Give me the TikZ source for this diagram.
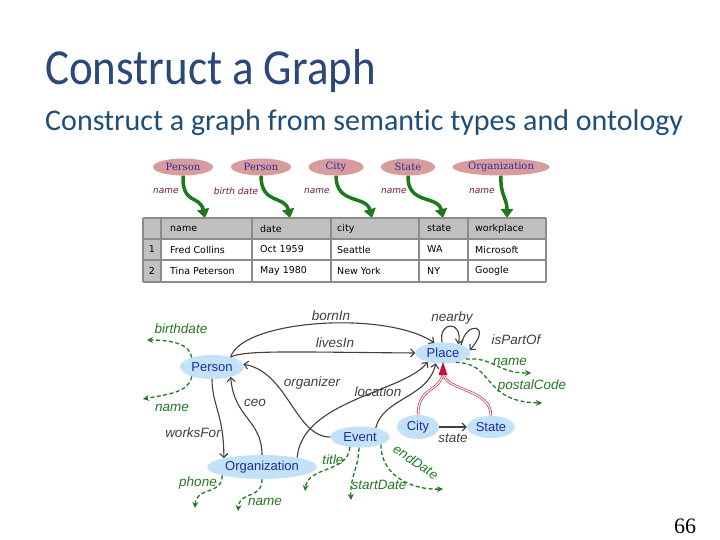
\documentclass[tikz,border=0pt]{standalone}
\usepackage{fontspec}
\setmainfont{Carlito}[Ligatures=NoCommon]
\newfontfamily\arialfont{Liberation Sans}
\newfontfamily\tablefont{DejaVu Sans}
\newfontfamily\typefont{DejaVu Serif}
\newfontfamily\numfont{Liberation Serif}
\usetikzlibrary{shapes.geometric,arrows.meta}
\definecolor{titleblue}{HTML}{2B4878}
\definecolor{subblue}{HTML}{1F4E79}
\definecolor{typepink}{HTML}{D99C9C}
\definecolor{typetext}{HTML}{2A2AA8}
\definecolor{labelred}{HTML}{7A1840}
\definecolor{bigreen}{HTML}{1C7A1C}
\definecolor{tgray}{HTML}{C0C0C0}
\definecolor{tline}{HTML}{8C8C8C}
\definecolor{clsblue}{HTML}{C3E2F8}
\definecolor{clstext}{HTML}{1A2E9E}
\definecolor{reldark}{HTML}{404040}
\definecolor{attrgreen}{HTML}{237A23}
\definecolor{subred}{HTML}{C0143C}
\tikzset{
  stype/.style={ellipse, fill=typepink, inner sep=0pt, minimum height=17pt,
    font=\typefont\fontsize{10}{11}\selectfont, text=typetext},
  slabel/.style={font=\tablefont\itshape\fontsize{9}{10}\selectfont, text=labelred},
  sarrow/.style={draw=bigreen, line width=3.5pt, -{Triangle[length=9pt,width=12pt]}},
  cell/.style={anchor=west, inner sep=0pt, font=\tablefont\fontsize{9.5}{10}\selectfont},
  cls/.style={ellipse, fill=clsblue, inner sep=0pt,
    font=\arialfont\fontsize{13}{14}\selectfont, text=clstext},
  rel/.style={draw=reldark, line width=1.1pt, -{Straight Barb[length=4pt,width=8pt]}},
  rellabel/.style={font=\arialfont\itshape\fontsize{13.5}{14}\selectfont, text=reldark, inner sep=0pt},
  attr/.style={draw=attrgreen, line width=1.3pt, dash pattern=on 4pt off 2.5pt,
    -{Stealth[length=6pt,width=6pt]}},
  attrlabel/.style={font=\arialfont\itshape\fontsize{13.5}{14}\selectfont, text=attrgreen, inner sep=0pt},
  subcls/.style={draw=subred, double=white, double distance=1.2pt, line width=0.6pt}
}
\begin{document}
\begin{tikzpicture}[x=1pt,y=-1pt]
  \fill[white] (0,0) rectangle (720,540);
  \useasboundingbox (0,0) rectangle (720,540);
  % Titles
  \node[anchor=base west, inner sep=0pt, text=titleblue, font=\fontsize{45}{50}\selectfont] (title) at (45,85) {\scalebox{1}[1.12]{Construct a Graph}};
  \node[anchor=base west, inner sep=0pt, text=subblue, font=\fontsize{30}{34}\selectfont] (subtitle) at (45,131) {Construct a graph from semantic types and ontology};
  \node[anchor=base, inner sep=0pt, font=\numfont\fontsize{22}{24}\selectfont] (page) at (685,533) {66};

  % Semantic types
  \node[stype, minimum width=60pt] (t1) at (183,167) {Person};
  \node[stype, minimum width=60pt] (t2) at (261,167) {Person};
  \node[stype, minimum width=55pt] (t3) at (336,167) {City};
  \node[stype, minimum width=54pt] (t4) at (408,167) {State};
  \node[stype, minimum width=97pt] (t5) at (501,167) {Organization};
  \node[slabel] (l1) at (166,191) {name};
  \node[slabel] (l2) at (236,191) {birth date};
  \node[slabel] (l3) at (317,191) {name};
  \node[slabel] (l4) at (394,191) {name};
  \node[slabel] (l5) at (482,191) {name};
  \coordinate (a1) at (205,218);
  \coordinate (a2) at (290,218);
  \coordinate (a3) at (372,218);
  \coordinate (a4) at (443,218);
  \coordinate (a5) at (507,218);
  \draw[sarrow] (t1.south) .. controls (182,205) and (200,195) .. (a1);
  \draw[sarrow] (t2.south) .. controls (261,205) and (285,195) .. (a2);
  \draw[sarrow] (t3.south) .. controls (336,205) and (366,195) .. (a3);
  \draw[sarrow] (t4.south) .. controls (407,205) and (438,195) .. (a4);
  \draw[sarrow] (t5.south) .. controls (500,195) and (507,198) .. (a5);

  % Table
  \fill[tgray] (143,218) rectangle (546,239);
  \fill[tgray] (143,239) rectangle (161,282);
  \foreach \y in {218,239,260,282}
    \draw[tline, line width=1.5pt] (143,\y) -- (546,\y);
  \foreach \x in {143,161,252,331,419,468,546}
    \draw[tline, line width=1.5pt] (\x,218) -- (\x,282);
  \node[cell] (hname) at (170,228.5) {name};
  \node[cell] (hdate) at (260,228.5) {date};
  \node[cell] (hcity) at (337,228.5) {city};
  \node[cell] (hstate) at (427,228.5) {state};
  \node[cell] (hwork) at (475,228.5) {workplace};
  \node[cell, anchor=center] (i1) at (152,249.5) {1};
  \node[cell] (r1a) at (170,249.5) {Fred Collins};
  \node[cell] (r1b) at (260,249.5) {Oct 1959};
  \node[cell] (r1c) at (337,249.5) {Seattle};
  \node[cell] (r1d) at (427,249.5) {WA};
  \node[cell] (r1e) at (475,249.5) {Microsoft};
  \node[cell, anchor=center] (i2) at (152,271) {2};
  \node[cell] (r2a) at (170,271) {Tina Peterson};
  \node[cell] (r2b) at (260,271) {May 1980};
  \node[cell] (r2c) at (337,271) {New York};
  \node[cell] (r2d) at (427,271) {NY};
  \node[cell] (r2e) at (475,271) {Google};

  % Ontology nodes
  \node[cls, minimum width=64pt, minimum height=24pt] (Person) at (212,367) {Person};
  \node[cls, minimum width=55pt, minimum height=21pt] (Place) at (443,353) {Place};
  \node[cls, minimum width=110pt, minimum height=24pt] (Organization) at (262,467) {Organization};
  \node[cls, minimum width=59pt, minimum height=21pt] (Event) at (360,437) {Event};
  \node[cls, minimum width=42pt, minimum height=24pt] (City) at (418,427) {City};
  \node[cls, minimum width=48pt, minimum height=22pt] (State) at (491,427) {State};

  % Object properties
  \draw[rel] (Person.28) .. controls (242,320) and (385,310) .. (Place.130);
  \draw[rel] (Person.28) .. controls (245,350) and (290,352) .. (Place.180);
  \draw[rel] (Event.180) .. controls (295,437) and (288,372) .. (Person.5);
  \draw[rel] (Organization.15) .. controls (302,400) and (405,392) .. (Place.210);
  \draw[rel] (Event.30) .. controls (383,398) and (428,398) .. (Place.235);
  \draw[rel] (Organization.north) .. controls (262,420) and (234,418) .. (Person.-28);
  \draw[rel] (Person.south) .. controls (212,405) and (224,415) .. (Organization.167);
  \draw[rel] (Place.95) .. controls (438,321) and (463,320) .. (Place.30);
  \draw[rel] (Place.24) .. controls (466,320) and (493,324) .. (Place.6);
  \draw[rel] (City.east) -- (State.west);
  \node[rellabel] (bornIn) at (331,316) {bornIn};
  \node[rellabel] (livesIn) at (335,343) {livesIn};
  \node[rellabel] (organizer) at (312,383) {organizer};
  \node[rellabel] (location) at (378,392) {location};
  \node[rellabel] (ceo) at (255,403) {ceo};
  \node[rellabel] (worksFor) at (193,433) {worksFor};
  \node[rellabel] (nearby) at (452,318) {nearby};
  \node[rellabel] (isPartOf) at (516,340) {isPartOf};
  \node[rellabel] (statelbl) at (453,438) {state};

  % Subclass links
  \coordinate (apex) at (443,373);
  \draw[subcls] (City.north) .. controls (418,386) and (441,392) .. (apex);
  \draw[subcls] (State.north) .. controls (491,388) and (446,392) .. (apex);
  \fill[subred] (443,362) -- (438.5,375) -- (447.5,375) -- cycle;

  % Data properties
  \coordinate (pb) at (147,340);
  \coordinate (pn) at (143,399);
  \coordinate (op) at (195,508);
  \coordinate (on) at (238,511);
  \coordinate (et) at (305,491);
  \coordinate (es) at (351,500);
  \coordinate (ee) at (443,489);
  \coordinate (qn) at (531,373);
  \coordinate (qp) at (542,403);
  \draw[attr] (Person.155) .. controls (190,344) and (172,340) .. (pb);
  \draw[attr] (Person.205) .. controls (189,392) and (170,394) .. (pn);
  \draw[attr] (Organization.192) .. controls (222,496) and (196,486) .. (op);
  \draw[attr] (Organization.south) .. controls (262,500) and (240,490) .. (on);
  \draw[attr] (Event.225) .. controls (348,473) and (308,466) .. (et);
  \draw[attr] (Event.265) .. controls (358,470) and (350,476) .. (es);
  \draw[attr] (Event.-20) .. controls (381,476) and (412,490) .. (ee);
  \draw[attr] (Place.-15) .. controls (495,357) and (496,373) .. (qn);
  \draw[attr] (Place.-37) .. controls (494,362) and (482,402) .. (qp);
  \node[attrlabel] (dbirth) at (181,329) {birthdate};
  \node[attrlabel] (dname) at (172,408) {name};
  \node[attrlabel] (dphone) at (198,483) {phone};
  \node[attrlabel] (doname) at (265,502) {name};
  \node[attrlabel] (dtitle) at (333,460) {title};
  \node[attrlabel] (dstart) at (379,485) {startDate};
  \node[attrlabel, rotate=-34] (dend) at (416,462) {endDate};
  \node[attrlabel] (dpname) at (510,362) {name};
  \node[attrlabel] (dpostal) at (532,386) {postalCode};
\end{tikzpicture}
\end{document}
